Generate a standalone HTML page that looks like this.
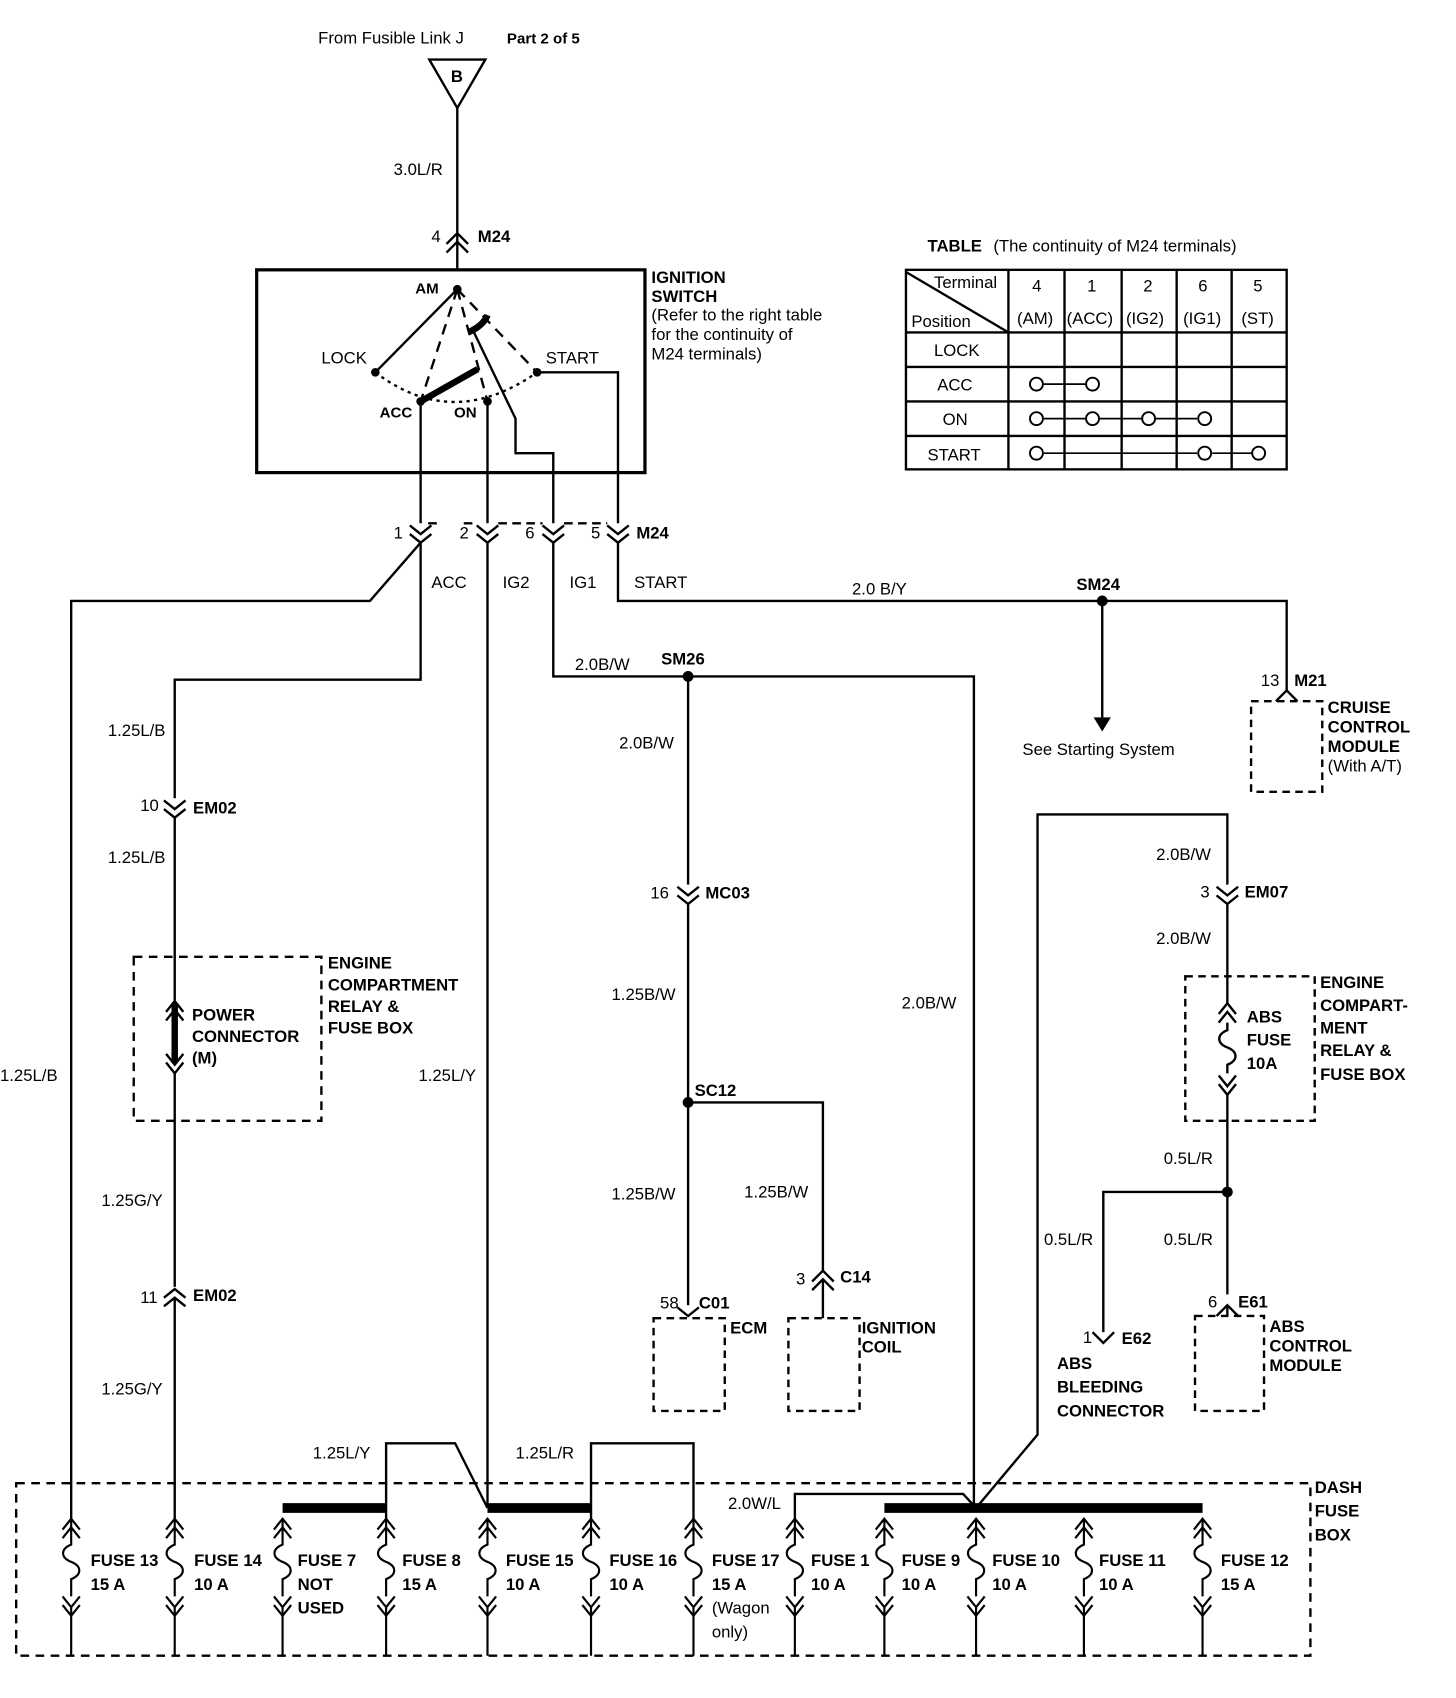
<!DOCTYPE html>
<html><head><meta charset="utf-8"><style>
html,body{margin:0;padding:0;background:#fff}
svg{display:block}
text{font-family:"Liberation Sans",Arial,sans-serif;font-size:15.5px;fill:#000}
.b{font-weight:bold;font-size:15.5px}
</style></head><body>
<svg width="1456" height="1698" viewBox="0 0 1350 1574" xmlns="http://www.w3.org/2000/svg">
<defs>
<path id="f" d="M-8 1418 L0 1408 L8 1418 M-8 1426 L0 1416 L8 1426 M0 1408 V1432 c-10 4 -10 12 0 16 c10 4 10 12 0 16 V1480 M-8 1480 L0 1490 L8 1480 M-8 1488 L0 1498 L8 1488 M0 1490 V1535"/>
</defs>
<g fill="none" stroke="#000" stroke-width="2.2">
<path d="M398 55 L450 55 L424 100 Z"/>
<path d="M424 100 V250"/>
<path d="M414 226 L424 216 L434 226 M414 234 L424 224 L434 234"/>
<rect x="238" y="250" width="360" height="188" stroke-width="3"/>
<path d="M424 268 L348 345"/>
<path d="M424 268 L390 372 M424 268 L452 372 M424 268 L498 345" stroke-dasharray="10,7"/>
<path d="M348 345 Q420 400 498 345" stroke-dasharray="3,4"/>
<path d="M390 372 Q420 355 443 342" stroke-width="6"/>
<path d="M434 308 Q448 302 452 292" stroke-width="6"/>
<path d="M438 305 L478 388 V420 H513 V485"/>
<path d="M498 345 H573 V485"/>
<path d="M390 372 V485 M452 372 V485"/>
<path d="M397 485 H410 M430 485 H442 M462 485 H503 M523 485 H563" stroke-dasharray="8,5"/>
<path d="M380 487 L390 495 L400 487 M380 495 L390 503 L400 495"/>
<path d="M442 487 L452 495 L462 487 M442 495 L452 503 L462 495"/>
<path d="M503 487 L513 495 L523 487 M503 495 L513 503 L523 495"/>
<path d="M563 487 L573 495 L583 487 M563 495 L573 503 L583 495"/>
<path d="M390 503 L343 557 H66 V1408"/>
<path d="M390 503 V630 H162 V740"/>
<path d="M152 742 L162 750 L172 742 M152 750 L162 758 L172 750"/>
<path d="M162 758 V930"/>
<rect x="124" y="887" width="174" height="152" stroke-dasharray="8,6"/>
<path d="M162 930 V985" stroke-width="6"/>
<path d="M154 938 L162 928 L170 938 M154 946 L162 936 L170 946"/>
<path d="M154 977 L162 987 L170 977 M154 985 L162 995 L170 985"/>
<path d="M162 995 V1193"/>
<path d="M152 1203 L162 1195 L172 1203 M152 1211 L162 1203 L172 1211"/>
<path d="M162 1203 V1408"/>
<path d="M452 503 V1398"/>
<path d="M358 1408 V1338 H422 L452 1398"/>
<path d="M548 1408 V1338 H643 V1408"/>
<path d="M262 1398 H358 M452 1398 H548 M820 1398 H1115" stroke-width="9"/>
<path d="M737 1408 V1385 H893 L905 1398"/>
<path d="M513 503 V627 H903 V1398"/>
<path d="M638 627 V820"/>
<path d="M628 822 L638 830 L648 822 M628 830 L638 838 L648 830"/>
<path d="M638 838 V1210"/>
<path d="M628 1212 L638 1220 L648 1212"/>
<path d="M638 1022 H763 V1178"/>
<path d="M753 1188 L763 1178 L773 1188 M753 1196 L763 1186 L773 1196"/>
<path d="M763 1186 V1222"/>
<rect x="606" y="1222" width="66" height="86" stroke-dasharray="7,5"/>
<rect x="731" y="1222" width="66" height="86" stroke-dasharray="7,5"/>
<path d="M905 1398 L962 1330 V755 H1138 V820"/>
<path d="M1128 822 L1138 830 L1148 822 M1128 830 L1138 838 L1148 830"/>
<path d="M1138 838 V930"/>
<rect x="1099" y="905" width="120" height="134" stroke-dasharray="7,5"/>
<path d="M1130 940 L1138 930 L1146 940 M1130 948 L1138 938 L1146 948"/>
<path d="M1138 948 V955 c-10 4 -10 12 0 16 c10 4 10 12 0 16 V995"/>
<path d="M1130 997 L1138 1007 L1146 997 M1130 1005 L1138 1015 L1146 1005"/>
<path d="M1138 1015 V1200"/>
<path d="M1128 1220 L1138 1210 L1148 1220"/>
<path d="M1138 1210 V1220"/>
<path d="M1138 1105 H1023 V1235"/>
<path d="M1013 1235 L1023 1245 L1033 1235"/>
<rect x="1108" y="1220" width="64" height="88" stroke-dasharray="7,5"/>
<path d="M573 503 V557 H1193 V640"/>
<path d="M1183 650 L1193 640 L1203 650"/>
<rect x="1160" y="650" width="66" height="84" stroke-dasharray="7,5"/>
<path d="M1022 557 V665"/>
<rect x="15" y="1375" width="1200" height="160" stroke-dasharray="8,6"/>
<rect x="840" y="250" width="353" height="185"/>
<path d="M935 250 V435 M987 250 V435 M1040 250 V435 M1091 250 V435 M1142 250 V435 M840 308 H1193 M840 340 H1193 M840 372 H1193 M840 404 H1193 M840 252 L935 308"/>
<path d="M968 356 H1007 M968 388 H1110 M968 420 H1110 M1124 420 H1161" stroke-width="1.6"/>
<g stroke-width="1.8">
<circle cx="961" cy="356" r="6" fill="#fff"/><circle cx="1013" cy="356" r="6" fill="#fff"/>
<circle cx="961" cy="388" r="6" fill="#fff"/><circle cx="1013" cy="388" r="6" fill="#fff"/><circle cx="1065" cy="388" r="6" fill="#fff"/><circle cx="1117" cy="388" r="6" fill="#fff"/>
<circle cx="961" cy="420" r="6" fill="#fff"/><circle cx="1117" cy="420" r="6" fill="#fff"/><circle cx="1167" cy="420" r="6" fill="#fff"/>
</g>
</g>
<g fill="#000">
<circle cx="424" cy="268" r="4"/><circle cx="348" cy="345" r="4"/><circle cx="390" cy="372" r="4"/><circle cx="452" cy="372" r="4"/><circle cx="498" cy="345" r="4"/>
<circle cx="638" cy="627" r="5"/><circle cx="1022" cy="557" r="5"/><circle cx="638" cy="1022" r="5"/><circle cx="1138" cy="1105" r="5"/>
<path d="M1014 665 L1030 665 L1022 678 Z"/>
</g>
<g fill="none" stroke="#000" stroke-width="2">
<use href="#f" x="66"/><use href="#f" x="162"/><use href="#f" x="262"/><use href="#f" x="358"/><use href="#f" x="452"/><use href="#f" x="548"/><use href="#f" x="643"/><use href="#f" x="737"/><use href="#f" x="820"/><use href="#f" x="905"/><use href="#f" x="1005"/><use href="#f" x="1115"/>
</g>
<text x="295" y="40">From Fusible Link J</text><text x="470" y="40" class="b" style="font-size:14px">Part 2 of 5</text>
<text x="418" y="76" class="b">B</text>
<text x="365" y="162">3.0L/R</text>
<text x="400" y="224">4</text><text x="443" y="224" class="b">M24</text>
<text x="385" y="272" class="b" style="font-size:14px">AM</text>
<text x="298" y="337">LOCK</text><text x="506" y="337">START</text>
<text x="352" y="387" class="b" style="font-size:14px">ACC</text><text x="421" y="387" class="b" style="font-size:14px">ON</text>
<text x="604" y="262" class="b">IGNITION</text><text x="604" y="280" class="b">SWITCH</text>
<text x="604" y="297">(Refer to the right table</text><text x="604" y="315">for the continuity of</text><text x="604" y="333">M24 terminals)</text>
<text x="365" y="499">1</text><text x="426" y="499">2</text><text x="487" y="499">6</text><text x="548" y="499">5</text><text x="590" y="499" class="b">M24</text>
<text x="400" y="545">ACC</text><text x="466" y="545">IG2</text><text x="528" y="545">IG1</text><text x="588" y="545">START</text>
<text x="790" y="551">2.0 B/Y</text><text x="998" y="547" class="b">SM24</text>
<text x="948" y="700">See Starting System</text>
<text x="1169" y="636">13</text><text x="1200" y="636" class="b">M21</text>
<text x="1231" y="661" class="b">CRUISE</text><text x="1231" y="679" class="b">CONTROL</text><text x="1231" y="697" class="b">MODULE</text><text x="1231" y="715">(With A/T)</text>
<text x="533" y="621">2.0B/W</text><text x="613" y="616" class="b">SM26</text>
<text x="574" y="694">2.0B/W</text>
<text x="100" y="682">1.25L/B</text>
<text x="130" y="752">10</text><text x="179" y="754" class="b">EM02</text>
<text x="100" y="800">1.25L/B</text>
<text x="304" y="898" class="b">ENGINE</text><text x="304" y="918" class="b">COMPARTMENT</text><text x="304" y="938" class="b">RELAY &amp;</text><text x="304" y="958" class="b">FUSE BOX</text>
<text x="178" y="946" class="b">POWER</text><text x="178" y="966" class="b">CONNECTOR</text><text x="178" y="986" class="b">(M)</text>
<text x="0" y="1002">1.25L/B</text>
<text x="388" y="1002">1.25L/Y</text>
<text x="94" y="1118">1.25G/Y</text>
<text x="130" y="1208">11</text><text x="179" y="1206" class="b">EM02</text>
<text x="94" y="1293">1.25G/Y</text>
<text x="603" y="833">16</text><text x="654" y="833" class="b">MC03</text>
<text x="567" y="927">1.25B/W</text>
<text x="836" y="935">2.0B/W</text>
<text x="644" y="1016" class="b">SC12</text>
<text x="567" y="1112">1.25B/W</text><text x="690" y="1110">1.25B/W</text>
<text x="738" y="1191">3</text><text x="779" y="1189" class="b">C14</text>
<text x="612" y="1213">58</text><text x="648" y="1213" class="b">C01</text>
<text x="677" y="1236" class="b">ECM</text>
<text x="799" y="1236" class="b">IGNITION</text><text x="799" y="1254" class="b">COIL</text>
<text x="1072" y="797">2.0B/W</text>
<text x="1113" y="832">3</text><text x="1154" y="832" class="b">EM07</text>
<text x="1072" y="875">2.0B/W</text>
<text x="1224" y="916" class="b">ENGINE</text><text x="1224" y="937" class="b">COMPART-</text><text x="1224" y="958" class="b">MENT</text><text x="1224" y="979" class="b">RELAY &amp;</text><text x="1224" y="1001" class="b">FUSE BOX</text>
<text x="1156" y="948" class="b">ABS</text><text x="1156" y="969" class="b">FUSE</text><text x="1156" y="991" class="b">10A</text>
<text x="1079" y="1079">0.5L/R</text>
<text x="968" y="1154">0.5L/R</text><text x="1079" y="1154">0.5L/R</text>
<text x="1120" y="1212">6</text><text x="1148" y="1212" class="b">E61</text>
<text x="1177" y="1235" class="b">ABS</text><text x="1177" y="1253" class="b">CONTROL</text><text x="1177" y="1271" class="b">MODULE</text>
<text x="1004" y="1245">1</text><text x="1040" y="1246" class="b">E62</text>
<text x="980" y="1269" class="b">ABS</text><text x="980" y="1291" class="b">BLEEDING</text><text x="980" y="1313" class="b">CONNECTOR</text>
<text x="290" y="1352">1.25L/Y</text><text x="478" y="1352">1.25L/R</text>
<text x="675" y="1399">2.0W/L</text>
<text x="1219" y="1384" class="b">DASH</text><text x="1219" y="1406" class="b">FUSE</text><text x="1219" y="1428" class="b">BOX</text>
<text x="84" y="1452" class="b">FUSE 13</text><text x="84" y="1474" class="b">15 A</text>
<text x="180" y="1452" class="b">FUSE 14</text><text x="180" y="1474" class="b">10 A</text>
<text x="276" y="1452" class="b">FUSE 7</text><text x="276" y="1474" class="b">NOT</text><text x="276" y="1496" class="b">USED</text>
<text x="373" y="1452" class="b">FUSE 8</text><text x="373" y="1474" class="b">15 A</text>
<text x="469" y="1452" class="b">FUSE 15</text><text x="469" y="1474" class="b">10 A</text>
<text x="565" y="1452" class="b">FUSE 16</text><text x="565" y="1474" class="b">10 A</text>
<text x="660" y="1452" class="b">FUSE 17</text><text x="660" y="1474" class="b">15 A</text>
<text x="752" y="1452" class="b">FUSE 1</text><text x="752" y="1474" class="b">10 A</text>
<text x="836" y="1452" class="b">FUSE 9</text><text x="836" y="1474" class="b">10 A</text>
<text x="920" y="1452" class="b">FUSE 10</text><text x="920" y="1474" class="b">10 A</text>
<text x="1019" y="1452" class="b">FUSE 11</text><text x="1019" y="1474" class="b">10 A</text>
<text x="1132" y="1452" class="b">FUSE 12</text><text x="1132" y="1474" class="b">15 A</text>
<text x="660" y="1496">(Wagon</text><text x="660" y="1518">only)</text>
<text x="860" y="233" class="b">TABLE</text><text x="921" y="233">(The continuity of M24 terminals)</text>
<text x="866" y="267">Terminal</text><text x="845" y="303">Position</text>
<text x="957" y="270">4</text><text x="1008" y="270">1</text><text x="1060" y="270">2</text><text x="1111" y="270">6</text><text x="1162" y="270">5</text>
<text x="943" y="300">(AM)</text><text x="989" y="300">(ACC)</text><text x="1044" y="300">(IG2)</text><text x="1097" y="300">(IG1)</text><text x="1151" y="300">(ST)</text>
<text x="866" y="330">LOCK</text><text x="869" y="362">ACC</text><text x="874" y="394">ON</text><text x="860" y="427">START</text>
</svg>
</body></html>
